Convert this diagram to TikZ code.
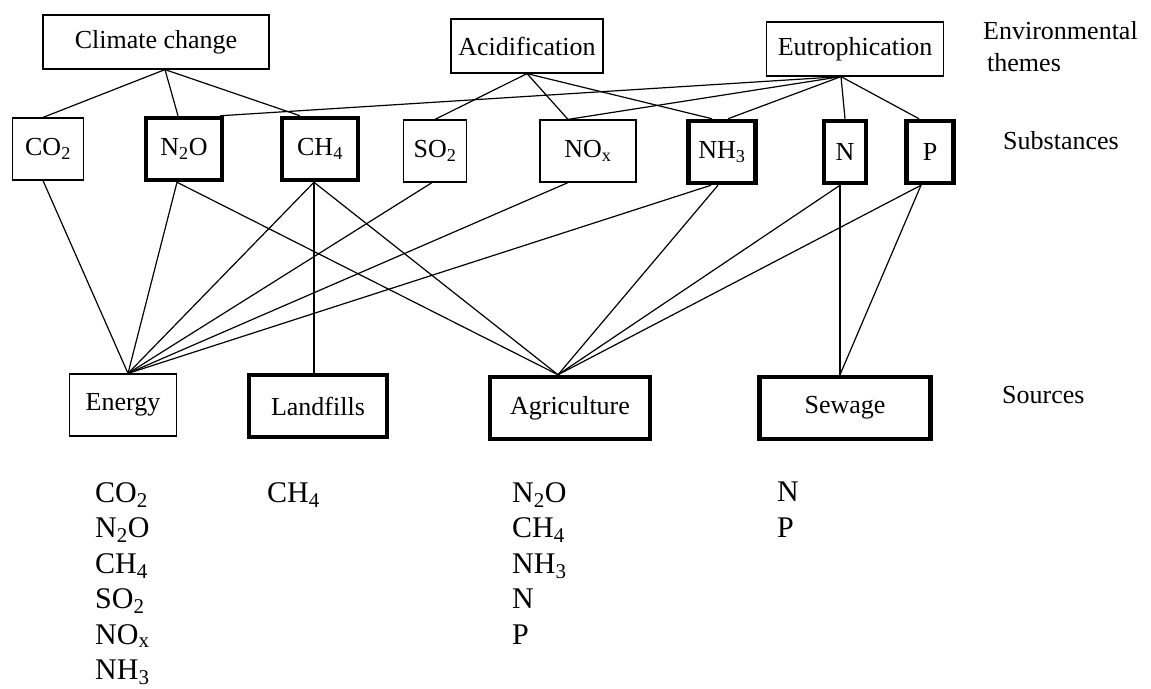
\documentclass[tikz,border=0pt]{standalone}
\usepackage{fontspec}
\setmainfont{Liberation Serif}
\usetikzlibrary{positioning}
\tikzstyle{theme} = [rectangle, draw, line width=1.2pt, minimum height=54pt, inner sep=0pt, text centered, font=\fontsize{26}{30}\selectfont]
\tikzstyle{gas} = [rectangle, draw, line width=1.2pt, minimum height=62pt, inner sep=0pt, text centered, font=\fontsize{26}{30}\selectfont]
\tikzstyle{gasmain} = [gas, line width=4.5pt]
\tikzstyle{source} = [rectangle, draw, line width=1.2pt, minimum height=62pt, inner sep=0pt, text centered, font=\fontsize{26}{30}\selectfont]
\tikzstyle{sourcemain} = [source, line width=4.5pt]
\tikzstyle{label} = [inner sep=0pt, align=left, font=\fontsize{26}{32}\selectfont]
\tikzstyle{list} = [inner sep=0pt, align=left, font=\fontsize{30}{35.5}\selectfont]
\tikzstyle{link} = [line width=1.2pt]

\begin{document}
\begin{tikzpicture}[x=1pt, y=-1pt, node distance=130pt]
\useasboundingbox (0,0) rectangle (1151,688);

\node (clim) [theme, minimum width=226pt] at (156,42) {Climate change};
\node (acid) [theme, minimum width=152pt, right of=clim, xshift=241pt, yshift=-4pt] {Acidification};
\node (eutro) [theme, minimum width=177pt, right of=acid, xshift=198pt, yshift=-3pt] {Eutrophication};
\node (themes) [label, anchor=west] at (983,47) {Environmental\\\hspace*{4pt}themes};

\node (co2) [gas, minimum width=71pt] at (48,149) {CO\textsubscript{2}};
\node (n2o) [gasmain, minimum width=76pt, right of=co2, xshift=6pt] {N\textsubscript{2}O};
\node (ch4) [gasmain, minimum width=76pt, right of=n2o, xshift=6pt] {CH\textsubscript{4}};
\node (so2) [gas, minimum width=63pt, right of=ch4, xshift=-15pt, yshift=-2pt] {SO\textsubscript{2}};
\node (nox) [gas, minimum width=96pt, right of=so2, xshift=23pt] {NO\textsubscript{x}};
\node (nh3) [gasmain, minimum width=67pt, right of=nox, xshift=4pt, yshift=-1pt] {NH\textsubscript{3}};
\node (n) [gasmain, minimum width=42pt, right of=nh3, xshift=-7pt] {N};
\node (p) [gasmain, minimum width=47pt, right of=n, xshift=-45pt] {P};
\node (subst) [label, anchor=west] at (1003,141) {Substances};

\node (energy) [source, minimum width=107pt] at (123,405) {Energy};
\node (landf) [sourcemain, minimum width=138pt, right of=energy, xshift=65pt, yshift=-1pt] {Landfills};
\node (agri) [sourcemain, minimum width=160pt, right of=landf, xshift=122pt, yshift=-2pt] {Agriculture};
\node (sewage) [sourcemain, minimum width=171pt, right of=agri, xshift=145pt] {Sewage};
\node (src) [label, anchor=west] at (1002,395) {Sources};

\draw [link] ([xshift=9pt]clim.south) -- ([xshift=-5pt]co2.north);
\draw [link] ([xshift=9pt]clim.south) -- ([xshift=-6pt]n2o.north);
\draw [link] ([xshift=9pt]clim.south) -- ([xshift=-20pt]ch4.north);
\draw [link] (acid.south) -- (so2.north);
\draw [link] (acid.south) -- ([xshift=-20pt]nox.north);
\draw [link] (acid.south) -- ([xshift=-10pt]nh3.north);
\draw [link] ([xshift=-14pt]eutro.south) -- ([xshift=-4pt]n2o.north east);
\draw [link] ([xshift=-14pt]eutro.south) -- ([xshift=-20pt]nox.north);
\draw [link] ([xshift=-14pt]eutro.south) -- ([xshift=6pt]nh3.north);
\draw [link] ([xshift=-14pt]eutro.south) -- (n.north);
\draw [link] ([xshift=-14pt]eutro.south) -- ([xshift=-11pt]p.north);

\draw [link] ([xshift=-5pt]co2.south) -- ([xshift=5pt]energy.north);
\draw [link] ([xshift=-7pt]n2o.south) -- ([xshift=5pt]energy.north);
\draw [link] ([xshift=-6pt]ch4.south) -- ([xshift=5pt]energy.north);
\draw [link] ([xshift=-3pt]so2.south) -- ([xshift=5pt]energy.north);
\draw [link] ([xshift=-20pt]nox.south) -- ([xshift=5pt]energy.north);
\draw [link] ([xshift=-11pt]nh3.south) -- ([xshift=5pt]energy.north);
\draw [link] ([xshift=-6pt]ch4.south) -- ([xshift=-4pt]landf.north);
\draw [link] ([xshift=-7pt]n2o.south) -- ([xshift=-12pt]agri.north);
\draw [link] ([xshift=-6pt]ch4.south) -- ([xshift=-12pt]agri.north);
\draw [link] ([xshift=-4pt]nh3.south) -- ([xshift=-12pt]agri.north);
\draw [link] ([xshift=-5pt]n.south) -- ([xshift=-12pt]agri.north);
\draw [link] ([xshift=-9pt]p.south) -- ([xshift=-12pt]agri.north);
\draw [link] ([xshift=-5pt]n.south) -- ([xshift=-5pt]sewage.north);
\draw [link] ([xshift=-9pt]p.south) -- ([xshift=-5pt]sewage.north);

\node (energylist) [list, anchor=north west] at (95,482) {CO\textsubscript{2}\\N\textsubscript{2}O\\CH\textsubscript{4}\\SO\textsubscript{2}\\NO\textsubscript{x}\\NH\textsubscript{3}};
\node (landflist) [list, anchor=north west] at (267,482) {CH\textsubscript{4}};
\node (agrilist) [list, anchor=north west] at (512,482) {N\textsubscript{2}O\\CH\textsubscript{4}\\NH\textsubscript{3}\\N\\P};
\node (sewagelist) [list, anchor=north west] at (777,482) {N\\P};
\end{tikzpicture}
\end{document}
